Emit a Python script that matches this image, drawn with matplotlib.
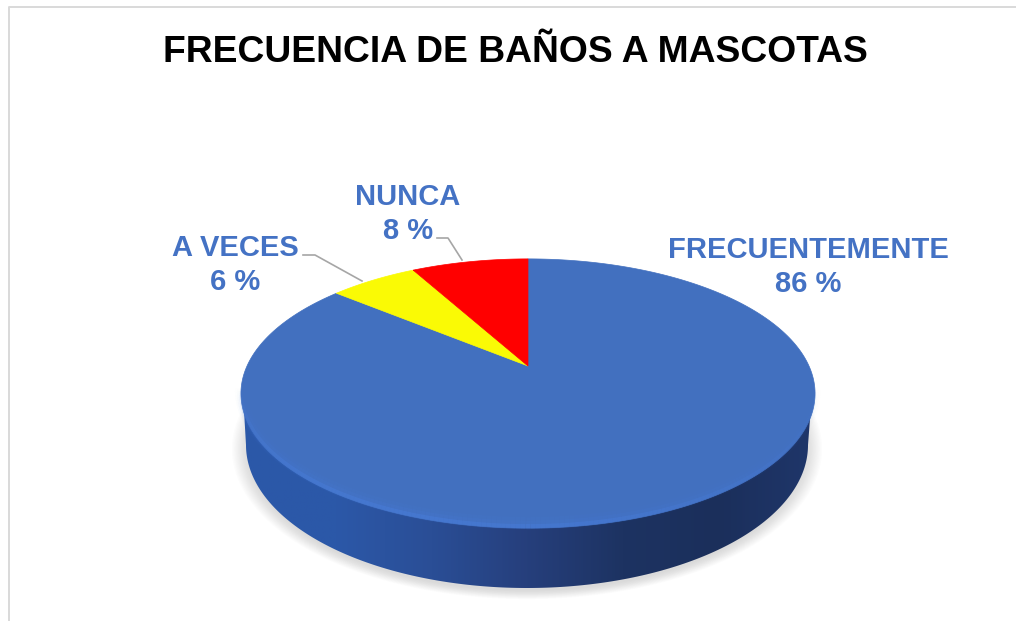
import numpy as np
import matplotlib
matplotlib.use("Agg")
import matplotlib.pyplot as plt
from matplotlib.collections import LineCollection
from matplotlib.colors import LinearSegmentedColormap
from matplotlib.patches import Polygon

title = "FRECUENCIA DE BAÑOS A MASCOTAS"
categories = ["FRECUENTEMENTE", "A VECES", "NUNCA"]
values = [86, 6, 8]
colors = ["#4270BF", "#FAFA05", "#FF0000"]

plt.rcParams['font.family'] = ['Liberation Sans', 'DejaVu Sans']

# the axes work in picture pixels, y going down
fig = plt.figure(figsize=(10.16, 6.21), dpi=100)
ax = fig.add_axes([0, 0, 1, 1])
ax.set_xlim(0, 1016)
ax.set_ylim(621, 0)
ax.axis('off')

# tilted disc: apex sits above the ellipse centre, so use a projective map
cx, cy = 528, 366
a, b, k = 281, 129, 0.2045


def rim(t):
    x, y = np.cos(t), np.sin(t)
    d = 1 + k * y
    return cx + a * x / d, cy - b * y / d


# soft shadow under the disc
ts = np.linspace(0, 2 * np.pi, 300)
for s in np.linspace(1.05, 0.99, 14):
    ax.fill(527 + 281 * s * np.cos(ts), 449 + 143 * s * np.sin(ts),
            color='#909090', alpha=0.022, lw=0, zorder=1)

# side of the disc with a horizontal gradient
tb = np.linspace(np.pi, 0, 200)
side_x = np.r_[243, 527 + 281 * np.cos(tb), 812]
side_y = np.r_[393, 445 + 143 * np.sin(tb), 393]
side = Polygon(np.c_[side_x, side_y], transform=ax.transData, fc='none', ec='none')
ax.add_patch(side)
cmap = LinearSegmentedColormap.from_list(
    'side', ['#2B58A8', '#2C58A8', '#2A4E96', '#263F7C', '#1D3362', '#1B2F5B', '#1F366A'])
img = ax.imshow(np.linspace(0, 1, 256)[None, :], extent=(241, 814, 590, 390),
                cmap=cmap, aspect='auto', zorder=2)
img.set_clip_path(side)
ax.set_xlim(0, 1016)
ax.set_ylim(621, 0)

# top face, slices go clockwise from twelve o'clock
start = np.pi / 2
for v, c in zip(values, colors):
    end = start - 2 * np.pi * v / sum(values)
    px, py = rim(np.linspace(start, end, 300))
    ax.fill(np.r_[cx, px], np.r_[cy, py], color=c, lw=0.5, zorder=3)
    start = end

# lighter bevel along the front rim, soft and inside the edge
tr = np.linspace(np.pi * 1.06, np.pi * 1.94, 200)
rx, ry = rim(tr)
pts = np.c_[rx, ry]
segs = np.stack([pts[:-1], pts[1:]], axis=1)
fade = np.sin(np.linspace(0, np.pi, len(segs))) ** 0.7
shade = np.linspace(1, 0.3, len(segs)) * fade
for width, alpha in [(9, 0.08), (6, 0.14), (3, 0.4)]:
    seg_colors = [(0.30, 0.52, 0.92, alpha * s) for s in shade]
    ax.add_collection(LineCollection(segs - [0, width / 2 + 0.5], colors=seg_colors,
                                     linewidths=width, zorder=4))

# frame
ax.plot([9, 9, 1016], [621, 7, 7], color='#D9D9D9', lw=1.4, zorder=1)

ax.text(515.5, 53, title, ha='center', va='center', fontsize=26.8,
        fontweight='bold', color='black')

# labels with leader lines
label_font = dict(ha='center', va='center', fontsize=21, fontweight='bold',
                  color='#4472C4', linespacing=1.29)
label_pos = [(808, 267), (235, 265), (408, 214)]
for name, v, (lx, ly) in zip(categories, values, label_pos):
    ax.text(lx, ly, f"{name}\n{v} %", **label_font)
ax.plot([303, 315, 362], [255, 255, 281], color='#A6A6A6', lw=1.2, zorder=5)
ax.plot([437, 448, 462], [238, 238, 260], color='#A6A6A6', lw=1.2, zorder=5)

fig.savefig('out.png', dpi=100, facecolor='white')
